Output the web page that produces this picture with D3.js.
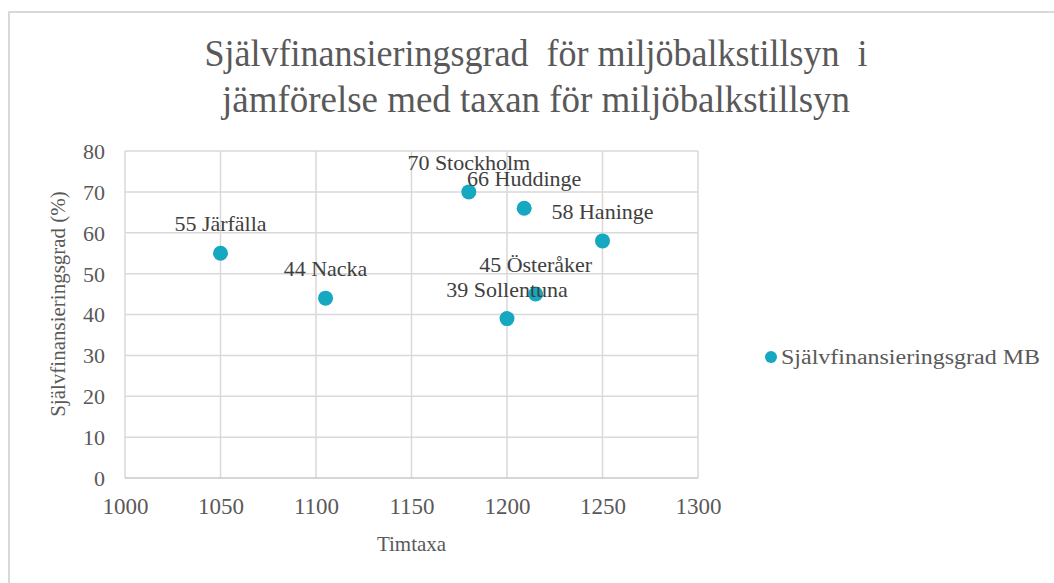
<!DOCTYPE html>
<html>
<head>
<meta charset="utf-8">
<script src="https://cdn.jsdelivr.net/npm/d3@7"></script>
<style>
  body { margin: 0; background: #fff; }
  svg text { font-family: "Liberation Serif", "Times New Roman", serif !important; }
</style>
</head>
<body>
<svg width="1054" height="583"></svg>
<script>
// data
let kommuner = ["Järfälla", "Nacka", "Stockholm", "Huddinge", "Sollentuna", "Österåker", "Haninge"];
let timtaxa = [1050, 1105, 1180, 1209, 1200, 1215, 1250];
let grad = [55, 44, 70, 66, 39, 45, 58];
let xTicks = [1000, 1050, 1100, 1150, 1200, 1250, 1300];
let yTicks = [0, 10, 20, 30, 40, 50, 60, 70, 80];
let titleLines = ["Självfinansieringsgrad  för miljöbalkstillsyn  i", "jämförelse med taxan för miljöbalkstillsyn"];
let seriesName = "Självfinansieringsgrad MB";

let svg = d3.select("svg");
let teal = "#16a8c0";
let grid = "#d9d9d9";
let serif = "'Liberation Serif', 'Times New Roman', serif";

// outer chart frame
svg.append("rect")
  .attr("x", 9).attr("y", 12)
  .attr("width", 1060).attr("height", 590)
  .attr("fill", "none")
  .attr("stroke", grid)
  .attr("stroke-width", 2);

let plot = {left: 125, right: 698, top: 151, bottom: 478};

let x = d3.scaleLinear().domain([1000, 1300]).range([plot.left, plot.right]);
let y = d3.scaleLinear().domain([0, 80]).range([plot.bottom, plot.top]);

// title, glyphs a bit taller and narrower like the original
svg.append("g").selectAll("text")
  .data(titleLines)
  .enter().append("text")
  .attr("transform", (d, i) => `translate(536,${66 + i * 46}) scale(1,1.12)`)
  .attr("text-anchor", "middle")
  .attr("font-size", 34)
  .attr("fill", "#595959")
  .attr("textLength", (d, i) => i === 0 ? 663 : 628)
  .attr("lengthAdjust", "spacingAndGlyphs")
  .style("font-family", serif)
  .style("white-space", "pre")
  .text(d => d);

// grid
let g = svg.append("g");
g.selectAll(".vgrid")
  .data(xTicks)
  .enter().append("line")
  .attr("x1", d => x(d)).attr("x2", d => x(d))
  .attr("y1", plot.top).attr("y2", plot.bottom)
  .attr("stroke", grid).attr("stroke-width", 1.5);

g.selectAll(".hgrid")
  .data(yTicks)
  .enter().append("line")
  .attr("x1", plot.left).attr("x2", plot.right)
  .attr("y1", d => y(d)).attr("y2", d => y(d))
  .attr("stroke", d => d === 0 ? "#c8c8c8" : grid).attr("stroke-width", 1.5);

// axes via d3 axis, only labels kept
let xAxis = svg.append("g")
  .attr("transform", `translate(0,${plot.bottom})`)
  .call(d3.axisBottom(x).tickValues(xTicks).tickFormat(d3.format("d")).tickSize(0).tickPadding(36));
let yAxis = svg.append("g")
  .attr("transform", `translate(${plot.left},0)`)
  .call(d3.axisLeft(y).tickValues(yTicks).tickFormat(d3.format("d")).tickSize(0).tickPadding(20));

[xAxis, yAxis].forEach(a => {
  a.attr("font-family", serif);
  a.select(".domain").remove();
  a.selectAll("text")
    .style("font-family", serif)
    .attr("fill", "#595959");
});
xAxis.selectAll("text").attr("font-size", 23).attr("dy", 0);
yAxis.selectAll("text").attr("font-size", 22).attr("dy", "0.34em");

// axis titles
svg.append("text")
  .attr("x", (plot.left + plot.right) / 2)
  .attr("y", 551)
  .attr("text-anchor", "middle")
  .attr("font-size", 21)
  .attr("fill", "#595959")
  .style("font-family", serif)
  .text("Timtaxa");

svg.append("text")
  .attr("transform", "translate(65,304) rotate(-90)")
  .attr("text-anchor", "middle")
  .attr("font-size", 21)
  .attr("fill", "#595959")
  .style("font-family", serif)
  .text("Självfinansieringsgrad (%)");

// points
let pts = kommuner.map((k, i) => ({name: k, tx: timtaxa[i], v: grad[i]}));

svg.append("g").selectAll("circle")
  .data(pts)
  .enter().append("circle")
  .attr("cx", d => x(d.tx))
  .attr("cy", d => y(d.v))
  .attr("r", 7.5)
  .attr("fill", teal);

svg.append("g").selectAll("text")
  .data(pts)
  .enter().append("text")
  .attr("x", d => x(d.tx))
  .attr("y", d => y(d.v) - 22)
  .attr("text-anchor", "middle")
  .attr("font-size", 22)
  .attr("fill", "#404040")
  .style("font-family", serif)
  .text(d => d.v + " " + d.name);

// legend
svg.append("circle")
  .attr("cx", 771).attr("cy", 357).attr("r", 6)
  .attr("fill", teal);
svg.append("text")
  .attr("x", 781).attr("y", 364)
  .attr("font-size", 20)
  .attr("fill", "#595959")
  .attr("textLength", 259)
  .attr("lengthAdjust", "spacingAndGlyphs")
  .style("font-family", serif)
  .text(seriesName);
</script>
</body>
</html>
